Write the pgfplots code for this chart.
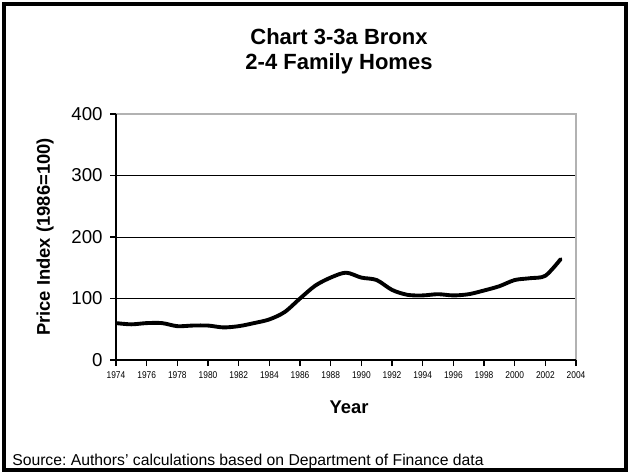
\documentclass[border=0pt]{standalone}
\usepackage{pgfplots}
\pgfplotsset{compat=1.18}
\usepackage{fontspec}
\setmainfont{Liberation Sans}
\frenchspacing
\begin{document}
\begin{tikzpicture}[x=0.75pt,y=0.75pt]
\useasboundingbox (0,0) rectangle (630,474);
\draw[line width=2.4pt] (4,4) rectangle (626,470);
\node[anchor=base, font=\bfseries\fontsize{16.5}{19}\selectfont] at (339,429) {Chart 3-3a Bronx};
\node[anchor=base, font=\bfseries\fontsize{16.5}{19}\selectfont] at (339,404) {2-4 Family Homes};
\node[rotate=90, font=\bfseries\fontsize{13.8}{16}\selectfont] at (45,237) {Price Index (1986=100)};
\node[anchor=base, font=\bfseries\fontsize{13.8}{16}\selectfont] at (349,61) {Year};
\node[anchor=base west, inner sep=0pt, font=\fontsize{11.8}{14}\selectfont] at (12,9) {Source: Authors' calculations based on Department of Finance data};
\begin{axis}[
  at={(87pt,85.5pt)}, anchor=south west,
  scale only axis, width=345pt, height=184.5pt,
  xmin=1974, xmax=2004, ymin=0, ymax=400,
  axis line style={draw=none},
  xtick={1974,1976,...,2004}, minor x tick num=1,
  ytick={0,100,200,300,400},
  xtick pos=left, ytick pos=left,
  tick align=outside,
  major tick length=4.5pt, minor tick length=4.5pt,
  tick style={black, line width=0.9pt},
  ymajorgrids, grid style={black, line width=0.6pt},
  /pgf/number format/.cd, 1000 sep={}, assume math mode=true,
  /pgfplots/.cd,
  yticklabel style={font=\fontsize{14}{14}\selectfont, xshift=-2pt},
  xticklabel style={font=\fontsize{7.4}{8}\selectfont, xscale=0.85, yshift=-1pt},
  after end axis/.code={
    \draw[gray!60, line width=1pt] (rel axis cs:0,1) -- (rel axis cs:1,1) -- (rel axis cs:1,0);
    \draw[black, line width=1.6pt] (rel axis cs:0,1) -- (rel axis cs:0,0) -- (rel axis cs:1,0);
  },
]
\addplot[black, line width=2.9pt, smooth, tension=0.5, mark=none, line join=round, line cap=round] coordinates {
(1974,60) (1975,58) (1976,60) (1977,60) (1978,55) (1979,56) (1980,56)
(1981,53) (1982,55) (1983,60) (1984,66) (1985,78) (1986,100) (1987,121)
(1988,134) (1989,142) (1990,134) (1991,130) (1992,114) (1993,106)
(1994,105) (1995,107) (1996,105) (1997,107) (1998,113) (1999,120)
(2000,130) (2001,133) (2002,137) (2003,164)
};
\end{axis}
\end{tikzpicture}
\end{document}
